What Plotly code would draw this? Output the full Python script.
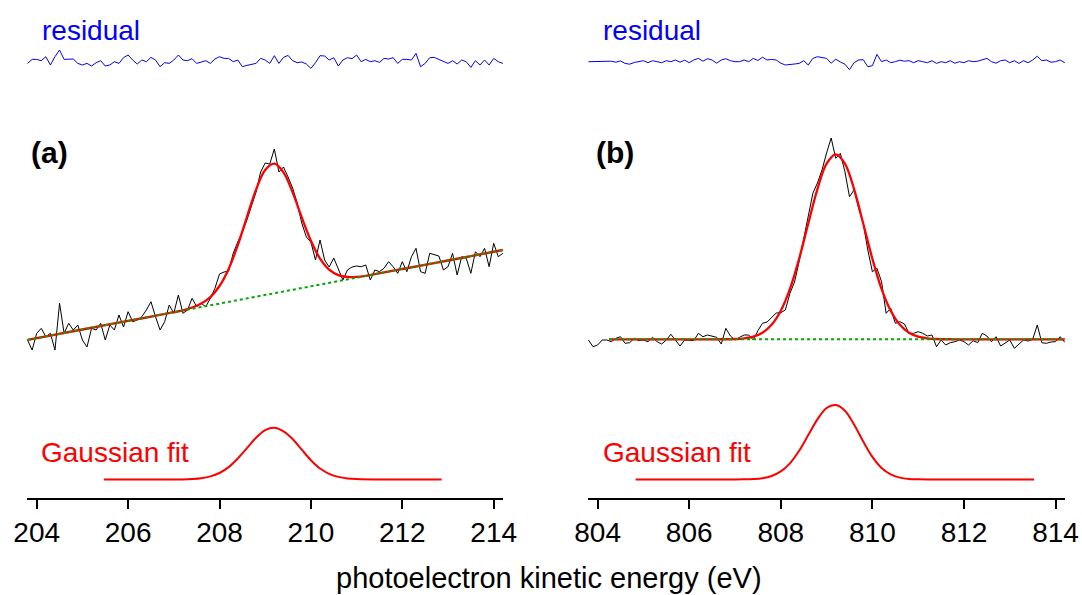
import numpy as np
import plotly.graph_objects as go

# ---------------- data ----------------
# panel (a): energy grid, 0.1 eV steps
ENERGY_A = np.round(np.arange(203.8, 214.25, 0.1), 2)
SPECTRUM_A = [20, 10, 26.7, 31.7, 23.3, 26.7, 10, 56.7, 26.7, 36.7,
              30, 35, 20, 13, 31.7, 30, 36.7, 20, 35, 30,
              45, 33, 48.3, 38.3, 40, 43.3, 50, 58.3, 43.3, 30,
              38.3, 55, 46.7, 65, 46.7, 50, 61.7, 53.3, 56.7, 53.3,
              61.7, 71.7, 86, 88, 89, 106.7, 118, 128, 140, 154,
              168, 188, 197, 196, 211, 188, 193, 183, 172, 157,
              137, 123, 118, 100, 120, 100, 93, 102, 90, 80,
              90, 93, 94, 93.3, 95, 80, 90, 88.3, 91.7, 98.3,
              93.3, 86.7, 98.3, 88.3, 103.3, 111.7, 88.3, 86.7, 106.7, 105,
              104, 90, 93.3, 106.7, 85, 103.3, 101.7, 86.7, 108.3, 103.3,
              111.7, 93.3, 116.7, 103.3, 106.7]
RESIDUAL_A = [-1.7, 2.3, 2.3, 1, 5, -3.3, 5, 11.7, 2.3, 2.3,
              2.7, -1.7, -3.3, -1.7, -4.3, -1, 1, -4.3, -3.3, 0,
              -1.7, 4, 6.7, 1.7, -2.3, 1.7, 0, 4.3, 1.7, -5,
              -1, -1.7, 1.7, 6.7, 1.7, 1, 3, -1.7, -0.7, 1,
              -1.7, 2.7, 5, 3.3, 3.3, 0, 1.7, -5, -3.7, -2.7,
              -1.7, 3.3, 1.7, -1.7, 6, -1.7, 4.3, 6.3, 1, -1,
              -0.3, -2.3, -6.7, -1, 6, 5.7, 1.7, 4, -4.3, 1.7,
              4, 3, 6.7, 0, 2.3, 0, 1, -0.7, 3.3, 2.7,
              4, -1.7, 2.3, 2.3, 1.7, 8.3, -5, -1.7, 4, 4.3,
              2.3, 0, -1.7, 1, -2.3, 1.7, 0, -5.7, 1, -3.3,
              1.7, -3.3, 3.3, 0, -1.7]
FIT_A_E = [203.8, 205.0, 206.0, 207.0, 207.2, 207.4, 207.6, 207.8, 208.0, 208.2,
           208.4, 208.6, 208.8, 209.0, 209.2, 209.4, 209.6, 209.8, 210.0, 210.2,
           210.4, 210.6, 210.8, 211.0, 211.2, 211.4, 212.0, 213.0, 214.2]
FIT_A = [20.1, 30.5, 39.1, 47.8, 49.6, 52.5, 56.4, 62.9, 74.0, 91.1,
         114.9, 143.0, 170.4, 190.1, 196.3, 187.7, 167.6, 142.6, 119.2, 101.4,
         90.3, 84.9, 83.0, 83.1, 84.2, 85.8, 91.0, 99.5, 110]
BASE_A_E = [203.8, 214.2]
BASE_A = [20.1, 110]
GAUSS_A_E = [205.47, 206.6, 207.2, 207.4, 207.6, 207.8, 208.0, 208.2, 208.4, 208.6,
             208.8, 209.0, 209.2, 209.4, 209.6, 209.8, 210.0, 210.2, 210.4, 210.6,
             210.8, 211.0, 211.4, 212.0, 212.86]
GAUSS_A = [0, 0, 0.1, 0.5, 1.3, 3.1, 6.5, 12.4, 21.0, 31.4,
           41.8, 49.4, 51.7, 48.2, 40.5, 29.8, 19.3, 11.0, 5.7, 2.6,
           1.05, 0.4, 0, 0, 0]

# panel (b)
ENERGY_B = np.round(np.arange(803.8, 814.25, 0.1), 2)
SPECTRUM_B = [20, 13.3, 15, 20, 20, 18.3, 21.7, 23.3, 16.7, 17.3,
              21.7, 19.3, 20, 18.3, 22.7, 18.3, 16, 20, 25.7, 20,
              14, 20, 20, 19.3, 26.7, 23.3, 25, 24, 22.7, 16,
              31.7, 24, 20, 22.7, 25, 25, 20, 29.3, 36.7, 38,
              43, 47, 47.3, 50, 66.7, 78, 98.3, 120, 145, 166.7,
              177, 190, 207, 222, 201.7, 206.7, 188.3, 163.3, 170, 151.7,
              136.7, 110, 88.3, 91.7, 78.3, 46.7, 51.7, 36.7, 38.3, 36,
              26.7, 26.7, 28.3, 26.7, 24, 25, 13.3, 20, 15, 17.3,
              18.3, 20, 18.3, 15, 19.3, 17.3, 26.7, 24, 18.3, 23.3,
              14, 17.3, 20, 11.7, 15.7, 20, 19, 20.7, 35, 17.3,
              16.7, 18, 18.3, 23.3, 17.7]
RESIDUAL_B = [0, 0, 0, 0, 0, 0.5, -0.5, 0.8, -1.7, -2.5,
              -0.8, 0, 1, -1, 1, 0, -1, 1, 0, 1.7,
              -0.5, 1.5, -1, 1.7, 3.3, 0.5, 3, 1.7, -1.5, 1.7,
              3, 1, 0, 0, 1.7, 0, 3.3, 1.2, 4.5, 1.7,
              2.3, 1.7, -1.5, -3.3, -2.5, -2.3, -1.7, 1, -3.3, 3.3,
              5, 4, 3.3, -1.5, 2.5, -0.3, -2.5, -8, -1, 1.7,
              2, -5, -4, 7.3, 0, 1.7, -1, 0, 1.5, 0.5,
              1, -1, 1, 0, -1, 1, -1.7, 0, -1, 1,
              -1.5, 0, -1, 1, 0, 0.5, 2.3, 3.3, 0, -1.5,
              1, 1.7, -1, 1, -1.7, 1, -1, 1.7, 5.5, 1,
              1.7, -0.5, 0, 1.7, -1]
FIT_B_E = [804.25, 806.0, 806.6, 807.0, 807.2, 807.4, 807.6, 807.8, 808.0, 808.2,
           808.4, 808.6, 808.8, 809.0, 809.2, 809.4, 809.6, 809.8, 810.0, 810.2,
           810.4, 810.6, 810.8, 811.0, 811.2, 811.4, 811.8, 812.4, 814.2]
FIT_B = [20.7, 20.7, 20.7, 21.0, 21.7, 23.4, 27.3, 35.2, 49.2, 71.1,
         101.2, 136.5, 170.9, 196.3, 205.7, 196.3, 170.9, 136.5, 101.2, 71.1,
         49.2, 35.2, 27.3, 23.4, 21.7, 21.0, 20.7, 20.7, 20.7]
BASE_B_E = [804.25, 814.2]
BASE_B = [20.7, 20.7]
GAUSS_B_E = [804.83, 806.4, 807.0, 807.2, 807.4, 807.6, 807.8, 808.0, 808.2, 808.4,
             808.6, 808.8, 809.0, 809.2, 809.4, 809.6, 809.8, 810.0, 810.2, 810.4,
             810.6, 810.8, 811.0, 811.4, 812.0, 813.53]
GAUSS_B = [0, 0, 0.05, 0.15, 0.45, 1.3, 3.5, 8.1, 16.2, 28.7,
           44.4, 60.1, 71.5, 74.4, 68.8, 55.0, 38.0, 22.6, 11.6, 5.1,
           1.9, 0.6, 0.2, 0, 0, 0]

TICKS_A = [204, 206, 208, 210, 212, 214]
TICKS_B = [804, 806, 808, 810, 812, 814]

assert len(SPECTRUM_A) == len(ENERGY_A) == len(RESIDUAL_A)
assert len(SPECTRUM_B) == len(ENERGY_B) == len(RESIDUAL_B)
assert len(FIT_A) == len(FIT_A_E) and len(FIT_B) == len(FIT_B_E)
assert len(GAUSS_A) == len(GAUSS_A_E) and len(GAUSS_B) == len(GAUSS_B_E)

# ---------------- layout constants ----------------
W, H = 1082, 595
AXIS_PX = 497.7
TOP_PX = 20.0
XA_PX = (26.87, 503.3)
XB_PX = (587.75, 1065.2)
RANGE_A = [203.785, 214.21]
RANGE_B = [803.785, 814.21]
SPEC_OFF = 137.7
RES_OFF = 436.0
GAUSS_OFF = 18.2

FONT = "Liberation Sans, Arial, Helvetica, sans-serif"
RED = "#ff0000"
GREEN = "#00a800"
BLUE = "#0000ff"

fig = go.Figure()


def add_panel(xa, ya, E, spec, res, fe, fv, be, bv, ge, gv):
    fig.add_trace(go.Scatter(x=E, y=np.array(res) + RES_OFF, mode="lines",
                             line=dict(color=BLUE, width=1), xaxis=xa, yaxis=ya))
    fig.add_trace(go.Scatter(x=E, y=np.array(spec) + SPEC_OFF, mode="lines",
                             line=dict(color="black", width=1), xaxis=xa, yaxis=ya))
    fig.add_trace(go.Scatter(x=fe, y=np.array(fv) + SPEC_OFF, mode="lines",
                             line=dict(color=RED, width=2.3, shape="spline", smoothing=1),
                             xaxis=xa, yaxis=ya))
    fig.add_trace(go.Scatter(x=be, y=np.array(bv) + SPEC_OFF, mode="lines",
                             line=dict(color=GREEN, width=2, dash="dot"), xaxis=xa, yaxis=ya))
    fig.add_trace(go.Scatter(x=ge, y=np.array(gv) + GAUSS_OFF, mode="lines",
                             line=dict(color=RED, width=2, shape="spline", smoothing=1),
                             xaxis=xa, yaxis=ya))


add_panel("x", "y", ENERGY_A, SPECTRUM_A, RESIDUAL_A, FIT_A_E, FIT_A,
          BASE_A_E, BASE_A, GAUSS_A_E, GAUSS_A)
add_panel("x2", "y2", ENERGY_B, SPECTRUM_B, RESIDUAL_B, FIT_B_E, FIT_B,
          BASE_B_E, BASE_B, GAUSS_B_E, GAUSS_B)

ydom = [(H - AXIS_PX) / H, (H - TOP_PX) / H]
yr = [0, AXIS_PX - TOP_PX]


def xaxis(px, rng, ticks, anchor):
    return dict(domain=[px[0] / W, px[1] / W], range=rng, anchor=anchor,
                automargin=False,
                showline=True, linecolor="black", linewidth=2,
                ticks="outside", ticklen=9, tickwidth=2, tickcolor="black",
                tickvals=ticks, ticktext=[str(t) for t in ticks],
                tickfont=dict(family=FONT, size=28, color="black"),
                showgrid=False, zeroline=False, fixedrange=True)


def yaxis(anchor):
    return dict(domain=ydom, range=yr, visible=False, anchor=anchor,
                automargin=False, fixedrange=True)


def ann(text, px, py, size, color, xanchor="left", bold=False):
    return dict(text=f"<b>{text}</b>" if bold else text, x=px / W, y=(H - py) / H,
                xref="paper", yref="paper", xanchor=xanchor, yanchor="middle",
                showarrow=False, font=dict(family=FONT, size=size, color=color))


fig.update_layout(
    width=W, height=H, margin=dict(l=0, r=0, t=0, b=0, pad=0), autosize=False,
    paper_bgcolor="white", plot_bgcolor="white", showlegend=False,
    xaxis=xaxis(XA_PX, RANGE_A, TICKS_A, "y"),
    yaxis=yaxis("x"),
    xaxis2=xaxis(XB_PX, RANGE_B, TICKS_B, "y2"),
    yaxis2=yaxis("x2"),
    annotations=[
        ann("residual", 40, 30, 28, BLUE),
        ann("residual", 600.5, 30, 28, BLUE),
        ann("(a)", 29, 152.5, 30, "black", bold=True),
        ann("(b)", 594, 152.5, 30, "black", bold=True),
        ann("Gaussian fit", 39, 452, 28, RED),
        ann("Gaussian fit", 600.5, 452, 28, RED),
        ann("photoelectron kinetic energy (eV)", 549, 578, 29, "black", xanchor="center"),
    ],
)

fig.write_html("out.html", config={"displayModeBar": False, "staticPlot": True},
               post_script="document.body.style.margin='0';document.body.style.overflow='hidden';")
